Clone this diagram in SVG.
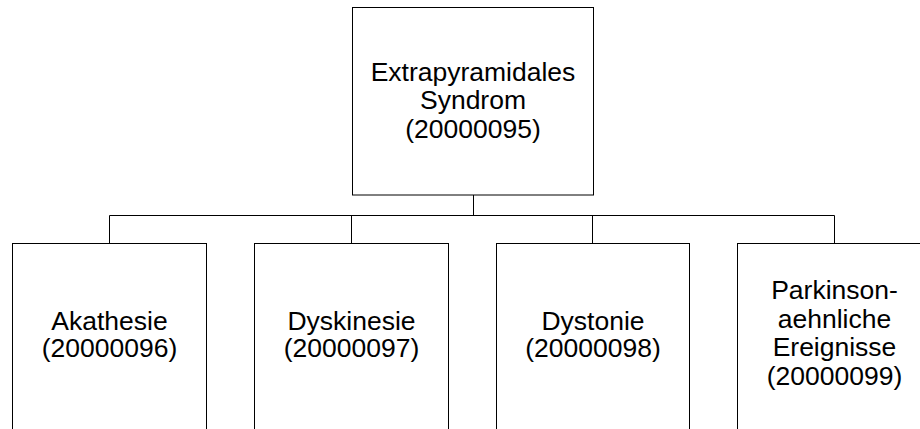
<svg xmlns="http://www.w3.org/2000/svg" width="920" height="429" viewBox="0 0 920 429">
<style>
.box{fill:#fff;stroke:#000;stroke-width:1}
.lbl{font-family:"Liberation Sans",Arial,sans-serif;font-size:26.5px;fill:#000;text-anchor:middle}
.con{fill:none;stroke:#000;stroke-width:1}
</style>
<rect width="920" height="429" fill="#fff"/>
<g id="connectors">
<path class="con" d="M473.5 195V215.5M109.5 215.5H834.5M109.5 215.5V243.5M351.5 215.5V243.5M592.5 215.5V243.5M834.5 215.5V243.5"/>
</g>
<g id="n20000095">
<rect class="box" x="352.5" y="7.5" width="241" height="187.5"/>
<text class="lbl" x="473" y="80.5">Extrapyramidales</text>
<text class="lbl" x="473" y="109">Syndrom</text>
<text class="lbl" x="473" y="137.5">(20000095)</text>
</g>
<g id="n20000096">
<rect class="box" x="12.5" y="243.5" width="194" height="200"/>
<text class="lbl" x="109.5" y="329.5">Akathesie</text>
<text class="lbl" x="109.5" y="357">(20000096)</text>
</g>
<g id="n20000097">
<rect class="box" x="254.5" y="243.5" width="194" height="200"/>
<text class="lbl" x="351.5" y="329.5">Dyskinesie</text>
<text class="lbl" x="351.5" y="357">(20000097)</text>
</g>
<g id="n20000098">
<rect class="box" x="496.5" y="243.5" width="193" height="200"/>
<text class="lbl" x="593" y="329.5">Dystonie</text>
<text class="lbl" x="593" y="357">(20000098)</text>
</g>
<g id="n20000099">
<rect class="box" x="737.5" y="243.5" width="194" height="200"/>
<text class="lbl" x="834.5" y="299">Parkinson-</text>
<text class="lbl" x="834.5" y="327.5">aehnliche</text>
<text class="lbl" x="834.5" y="356">Ereignisse</text>
<text class="lbl" x="834.5" y="384.5">(20000099)</text>
</g>
</svg>
